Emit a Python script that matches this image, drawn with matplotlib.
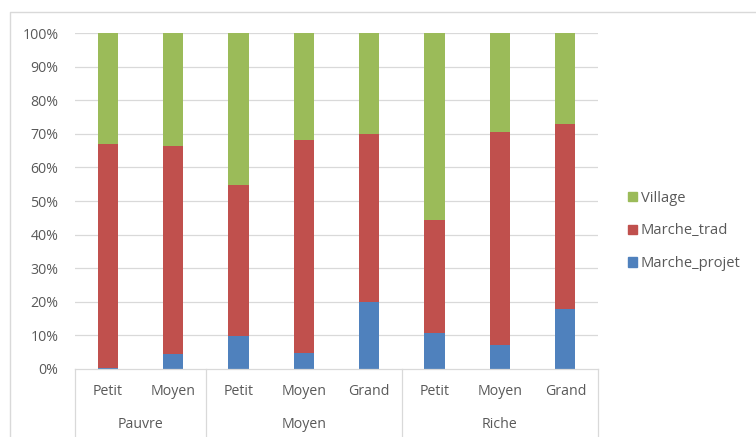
import matplotlib

matplotlib.use("Agg")
import matplotlib.pyplot as plt
import matplotlib.transforms as mtransforms
from matplotlib.lines import Line2D
from matplotlib.patches import Patch
import numpy as np

plt.rcParams["font.family"] = ["Open Sans", "DejaVu Sans"]

# shares (%) per household size, grouped by wealth class
sizes = ["Petit", "Moyen", "Petit", "Moyen", "Grand", "Petit", "Moyen", "Grand"]
groups = ["Pauvre", "Moyen", "Riche"]
group_counts = [2, 3, 3]
marche_projet = [0.4, 4.5, 9.8, 4.8, 19.9, 10.8, 7.1, 17.9]
marche_trad = [66.7, 62.0, 44.9, 63.4, 50.0, 33.4, 63.4, 55.0]
village = [32.9, 33.5, 45.3, 31.8, 30.1, 55.8, 29.5, 27.1]

C_PROJET = "#4F81BD"
C_TRAD = "#C0504D"
C_VILLAGE = "#9BBB59"
GRID = "#D9D9D9"
TXT = "#595959"
FS = 10.2

W, H = 756, 437
fig = plt.figure(figsize=(W / 100, H / 100), dpi=100)
ax = fig.add_axes([75 / W, (H - 369) / H, (598 - 75) / W, (369 - 33) / H])

x = np.arange(len(sizes))
bw = 0.31
projet = np.array(marche_projet)
trad = np.array(marche_trad)
vill = np.array(village)
ax.bar(x, projet, bw, color=C_PROJET, zorder=3)
ax.bar(x, trad, bw, bottom=projet, color=C_TRAD, zorder=3)
ax.bar(x, vill, bw, bottom=projet + trad, color=C_VILLAGE, zorder=3)

ax.set_xlim(-0.5, len(sizes) - 0.5)
ax.set_ylim(0, 100)
ax.set_yticks(np.arange(0, 101, 10))
ax.set_yticklabels([f"{v}%" for v in range(0, 101, 10)], color=TXT, fontsize=FS)
ax.tick_params(axis="y", length=0, pad=12)
ax.set_xticks([])
for v in range(10, 101, 10):
    ax.axhline(v, color=GRID, lw=0.9, zorder=1)
for s in ax.spines.values():
    s.set_visible(False)
ax.axhline(0, color=GRID, lw=0.9, zorder=4, clip_on=False)

# two-level category axis
trans = mtransforms.blended_transform_factory(ax.transData, ax.transAxes)
bottom = -(H - 369) / (369 - 33)
bounds = np.concatenate([[0], np.cumsum(group_counts)]) - 0.5
for b in bounds:
    ax.add_line(Line2D([b, b], [0, bottom], transform=trans, color=GRID, lw=0.9, clip_on=False))
for xi, lab in zip(x, sizes):
    ax.text(xi, -0.066, lab, transform=trans, ha="center", va="center", color=TXT, fontsize=FS)
for g, lo, hi in zip(groups, bounds[:-1], bounds[1:]):
    ax.text((lo + hi) / 2, -0.164, g, transform=trans, ha="center", va="center", color=TXT, fontsize=FS)

# chart frame (left and top edges)
fig.add_artist(Line2D([10 / W, 10 / W, 1], [0, (H - 12) / H, (H - 12) / H],
                      transform=fig.transFigure, color="#D9D9D9", lw=1))

handles = [Patch(color=C_VILLAGE), Patch(color=C_TRAD), Patch(color=C_PROJET)]
fig.legend(handles, ["Village", "Marche_trad", "Marche_projet"], loc="center left",
           bbox_to_anchor=(615 / W, (H - 231) / H), frameon=False, fontsize=10.6,
           handlelength=0.6, handleheight=0.6, handletextpad=0.25, labelspacing=1.2,
           labelcolor=TXT)

fig.savefig("out.png", dpi=100)
